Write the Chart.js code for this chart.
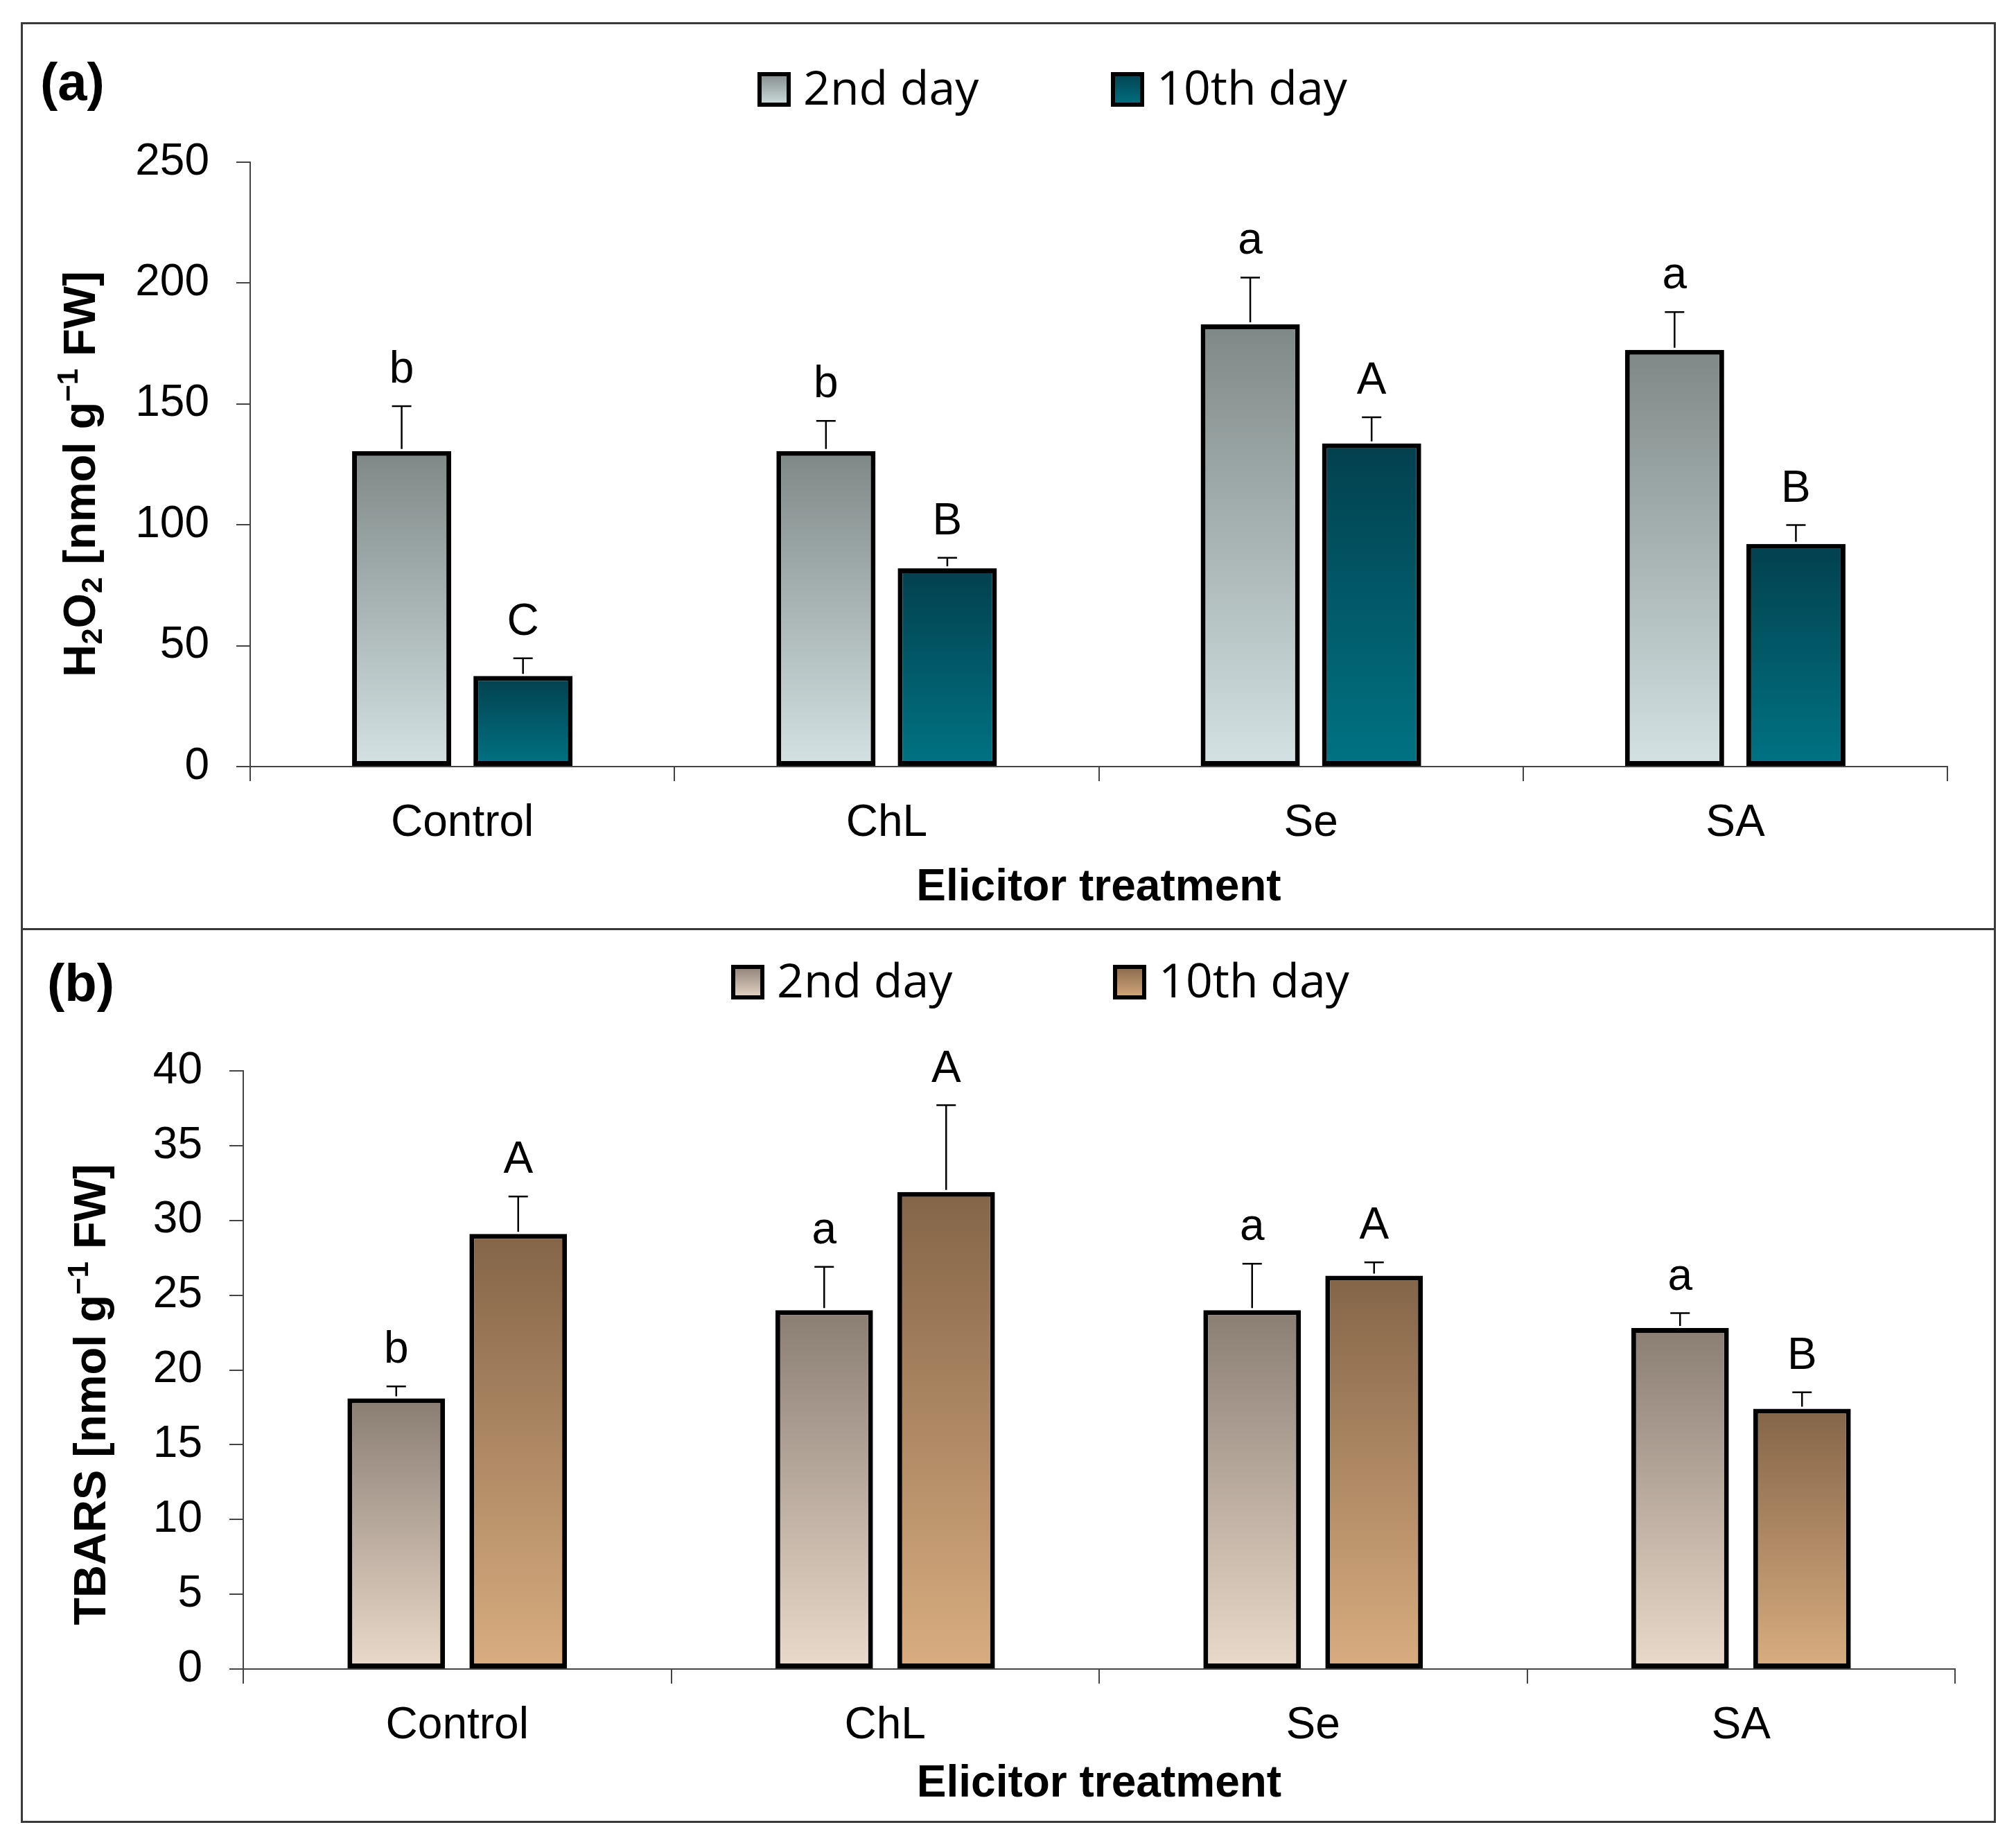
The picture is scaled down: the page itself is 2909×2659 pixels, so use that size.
<!DOCTYPE html>
<html>
<head>
<meta charset="utf-8">
<script src="https://cdn.jsdelivr.net/npm/chart.js@4.4.1/dist/chart.umd.min.js"></script>
<style>
  html, body { margin: 0; padding: 0; background: #fff; }
  body { width: 2909px; height: 2659px; position: relative; overflow: hidden; }
  .panel { position: absolute; left: 30px; width: 2850px; }
  .frame { position: absolute; left: 30px; width: 2850px; box-sizing: border-box; border: 3px solid #3a3a3a; pointer-events: none; }
</style>
</head>
<body>
<div class="panel" style="top:32px;height:1308px"><canvas id="chartA"></canvas></div>
<div class="panel" style="top:1340px;height:1290px"><canvas id="chartB"></canvas></div>
<div class="frame" style="top:32px;height:1310px"></div>
<div class="frame" style="top:1339px;height:1291px"></div>
<script>
// data
const categories = ['Control', 'ChL', 'Se', 'SA'];
const seriesNames = ['2nd day', '10th day'];

const h2o2Day2 = [130.5, 130.5, 182.9, 172.4];
const h2o2Day10 = [37.5, 82.0, 133.7, 92.1];
const h2o2Day2Err = [18.6, 12.5, 19.4, 15.6];
const h2o2Day10Err = [7.3, 4.4, 10.8, 7.8];
const h2o2Day2Letters = ['b', 'b', 'a', 'a'];
const h2o2Day10Letters = ['C', 'B', 'A', 'B'];
const h2o2Ticks = [0, 50, 100, 150, 200, 250];

const tbarsDay2 = [18.1, 24.0, 24.0, 22.8];
const tbarsDay10 = [29.1, 31.9, 26.3, 17.4];
const tbarsDay2Err = [0.8, 2.9, 3.1, 1.0];
const tbarsDay10Err = [2.5, 5.8, 0.9, 1.1];
const tbarsDay2Letters = ['b', 'a', 'a', 'a'];
const tbarsDay10Letters = ['A', 'A', 'A', 'B'];
const tbarsTicks = [0, 5, 10, 15, 20, 25, 30, 35, 40];

const ARIAL = '"Liberation Sans", Arial, sans-serif';

// each bar gets its own vertical gradient, dark at the top
function barGradient(topColor, bottomColor) {
  return function (c) {
    if (c.type !== 'data') return bottomColor;
    const ys = c.chart.scales.y;
    const y0 = ys.getPixelForValue(c.raw);
    const y1 = ys.getPixelForValue(0);
    if (!isFinite(y0) || !isFinite(y1) || y0 === y1) return bottomColor;
    const g = c.chart.ctx.createLinearGradient(0, y0, 0, y1);
    g.addColorStop(0, topColor);
    g.addColorStop(1, bottomColor);
    return g;
  };
}

const errorBars = {
  id: 'errorBars',
  afterDatasetsDraw(chart) {
    const ctx = chart.ctx;
    const ys = chart.scales.y;
    chart.data.datasets.forEach((ds, i) => {
      chart.getDatasetMeta(i).data.forEach((bar, j) => {
        const base = ys.getPixelForValue(ds.data[j]);
        const top = ys.getPixelForValue(ds.data[j] + ds.errors[j]);
        ctx.save();
        ctx.strokeStyle = '#000';
        ctx.lineWidth = 2.5;
        ctx.beginPath();
        ctx.moveTo(bar.x, base - 3);
        ctx.lineTo(bar.x, top);
        ctx.moveTo(bar.x - 14, top);
        ctx.lineTo(bar.x + 14, top);
        ctx.stroke();
        ctx.fillStyle = '#000';
        ctx.font = '64px ' + ARIAL;
        ctx.textAlign = 'center';
        ctx.textBaseline = 'alphabetic';
        ctx.fillText(ds.letters[j], bar.x, top - 34);
        ctx.restore();
      });
    });
  }
};

// panel tag, legend and the y title with sub/superscripts
const decor = {
  id: 'decor',
  afterDraw(chart, args, o) {
    const ctx = chart.ctx;
    ctx.save();
    ctx.fillStyle = '#000';
    ctx.textBaseline = 'alphabetic';
    ctx.textAlign = 'left';
    ctx.font = 'bold 76px ' + ARIAL;
    ctx.fillText(o.tag, o.tagX, o.tagY);

    chart.data.datasets.forEach((ds, i) => {
      const bx = o.legendX[i];
      const g = ctx.createLinearGradient(0, o.legendTop, 0, o.legendTop + 50);
      g.addColorStop(0, ds.topColor);
      g.addColorStop(1, ds.bottomColor);
      ctx.fillStyle = g;
      ctx.fillRect(bx, o.legendTop, 48, 50);
      ctx.lineWidth = 6;
      ctx.strokeStyle = '#000';
      ctx.strokeRect(bx + 3, o.legendTop + 3, 42, 44);
      ctx.fillStyle = '#000';
      ctx.font = '68px "Open Sans", sans-serif';
      ctx.fillText(ds.label, bx + 66, o.legendTop + 47);
    });

    const size = 65;
    const pieces = o.yTitle.map(p => {
      const s = p.sub || p.sup ? Math.round(size * 0.64) : size;
      ctx.font = 'bold ' + s + 'px ' + ARIAL;
      return { t: p.t, font: ctx.font, w: ctx.measureText(p.t).width, dy: p.sub ? size * 0.16 : (p.sup ? -size * 0.38 : 0) };
    });
    const total = pieces.reduce((a, p) => a + p.w, 0);
    ctx.translate(o.yTitleX, o.yTitleY);
    ctx.rotate(-Math.PI / 2);
    let x = -total / 2;
    pieces.forEach(p => {
      ctx.font = p.font;
      ctx.fillText(p.t, x, p.dy);
      x += p.w;
    });
    ctx.restore();
  }
};

function makeChart(id, cfg) {
  return new Chart(document.getElementById(id), {
    type: 'bar',
    data: {
      labels: categories,
      datasets: cfg.series.map((s, i) => ({
        label: seriesNames[i],
        data: s.values,
        errors: s.errors,
        letters: s.letters,
        topColor: s.top,
        bottomColor: s.bottom,
        backgroundColor: barGradient(s.top, s.bottom),
        borderColor: '#000',
        borderWidth: 7,
        borderSkipped: false,
        categoryPercentage: cfg.catPct,
        barPercentage: cfg.barPct
      }))
    },
    options: {
      responsive: true,
      maintainAspectRatio: false,
      animation: false,
      events: [],
      layout: { padding: cfg.padding },
      plugins: {
        legend: { display: false },
        tooltip: { enabled: false },
        decor: cfg.decor
      },
      scales: {
        x: {
          grid: { offset: true, drawOnChartArea: false, tickLength: 21, color: '#444', lineWidth: 2 },
          border: { color: '#444', width: 2 },
          ticks: { color: '#000', padding: 23, font: { family: ARIAL, size: 64 } },
          title: { display: true, text: 'Elicitor treatment', color: '#000', padding: 0,
                   font: { family: ARIAL, size: 64, weight: 'bold' } },
          afterFit: s => { s.height = cfg.xHeight; }
        },
        y: {
          min: cfg.ticks[0],
          max: cfg.ticks[cfg.ticks.length - 1],
          afterBuildTicks: s => { s.ticks = cfg.ticks.map(v => ({ value: v })); },
          grid: { drawOnChartArea: false, tickLength: 20, color: '#444', lineWidth: 2 },
          border: { color: '#444', width: 2 },
          ticks: { color: '#000', padding: 39, font: { family: ARIAL, size: 64 } },
          afterFit: s => { s.width = cfg.yWidth; }
        }
      }
    },
    plugins: [errorBars, decor]
  });
}

makeChart('chartA', {
  series: [
    { values: h2o2Day2, errors: h2o2Day2Err, letters: h2o2Day2Letters, top: '#7e8887', bottom: '#d4e2e3' },
    { values: h2o2Day10, errors: h2o2Day10Err, letters: h2o2Day10Letters, top: '#03404e', bottom: '#007383' }
  ],
  ticks: h2o2Ticks,
  catPct: 0.572, barPct: 0.817,
  padding: { left: 0, right: 70, top: 202, bottom: 20 },
  xHeight: 214, yWidth: 331,
  decor: {
    tag: '(a)', tagX: 28, tagY: 112,
    legendX: [1063, 1573], legendTop: 72,
    yTitleX: 107, yTitleY: 652,
    yTitle: [{ t: 'H' }, { t: '2', sub: true }, { t: 'O' }, { t: '2', sub: true }, { t: ' [nmol g' }, { t: '\u22121', sup: true }, { t: ' FW]' }]
  }
});

makeChart('chartB', {
  series: [
    { values: tbarsDay2, errors: tbarsDay2Err, letters: tbarsDay2Letters, top: '#8a7d72', bottom: '#eadacb' },
    { values: tbarsDay10, errors: tbarsDay10Err, letters: tbarsDay10Letters, top: '#846548', bottom: '#d9ad80' }
  ],
  ticks: tbarsTicks,
  catPct: 0.57, barPct: 0.80,
  padding: { left: 0, right: 59, top: 205, bottom: 17 },
  xHeight: 205, yWidth: 321,
  decor: {
    tag: '(b)', tagX: 38, tagY: 104,
    legendX: [1025, 1576], legendTop: 52,
    yTitleX: 122, yTitleY: 672,
    yTitle: [{ t: 'TBARS [nmol g' }, { t: '\u22121', sup: true }, { t: ' FW]' }]
  }
});
</script>
</body>
</html>
